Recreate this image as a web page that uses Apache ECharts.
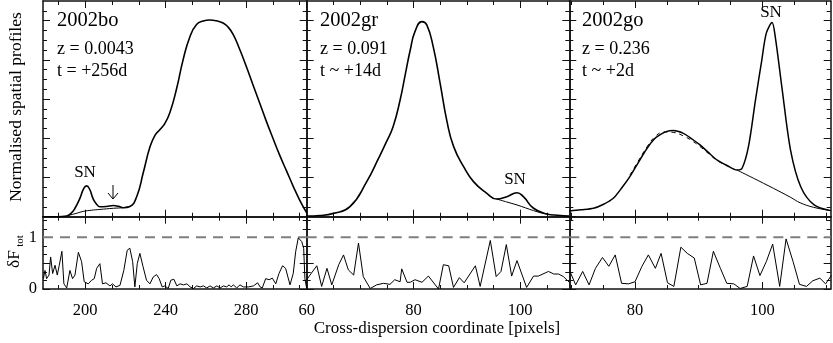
<!DOCTYPE html>
<html>
<head>
<meta charset="utf-8">
<script src="https://cdn.jsdelivr.net/npm/echarts@6/dist/echarts.min.js"></script>
<style>
  html, body { margin: 0; padding: 0; background: #fff; }
  #chart { width: 833px; height: 343px; }
</style>
</head>
<body>
<div id="chart"></div>
<script>
// ---- data ----
// 2002bo
const boTotal = [[179, 0.0], [186, 0.0], [190.8, 0.004], [193, 0.018], [194.9, 0.043], [197.4, 0.095], [199.3, 0.145], [200.7, 0.157], [202.2, 0.14], [204, 0.09], [205.8, 0.062], [207.3, 0.051], [210.5, 0.052], [214, 0.057], [216.5, 0.053], [218.9, 0.046], [222.2, 0.052], [225.6, 0.102], [228.9, 0.225], [232.2, 0.355], [234.7, 0.415], [237.2, 0.445], [239.6, 0.475], [242.1, 0.53], [245.4, 0.65], [248.7, 0.8], [252.1, 0.918], [255.4, 0.98], [258.7, 0.998], [262, 1.003], [265.3, 0.999], [268.6, 0.988], [271, 0.968], [273.6, 0.93], [276.8, 0.855], [280.2, 0.765], [283.5, 0.672], [286.8, 0.58], [290, 0.49], [293.4, 0.4], [296.7, 0.315], [300.1, 0.235], [303.5, 0.155], [306.7, 0.085], [310.2, 0.02]];
const boModel = [[190.8, 0.005], [194.9, 0.015], [199, 0.027], [203, 0.033], [207.3, 0.037], [214, 0.043], [218.9, 0.046], [222.2, 0.052]];
const boRes = [[179.2, 0.2], [180.0, 0.36], [180.8, 0.2], [182.0, 0.27], [182.8, 0.62], [183.8, 0.3], [185.0, 0.46], [186.1, 0.27], [187.1, 0.46], [188.4, 0.73], [189.4, 0.1], [190.8, 0.02], [192.4, 0.36], [193.7, 0.2], [194.9, 0.27], [196.6, 0.71], [198.2, 0.53], [199.5, 0.14], [201.5, 0.1], [203.2, 0.17], [204.5, 0.2], [205.7, 0.4], [207.3, 0.49], [208.6, 0.1], [210.3, 0.12], [212.3, 0.06], [213.6, 0.1], [215.3, 0.04], [217.3, 0.07], [219.2, 0.36], [220.9, 0.75], [222.2, 0.79], [223.6, 0.53], [224.7, 0.04], [225.9, 0.49], [227.2, 0.69], [228.8, 0.43], [230.5, 0.17], [232.2, 0.1], [233.8, 0.23], [235.5, 0.28], [236.8, 0.2], [238.3, 0.04], [239.6, 0.06], [241.3, 0.01], [242.6, 0.17], [244.1, 0.19], [245.6, 0.06], [247.2, 0.1], [248.9, 0.08], [250.6, 0.1], [252.2, 0.04], [253.9, 0.01], [255.5, 0.06], [257.2, 0.04], [258.8, 0.06], [260.5, 0.02], [262.1, 0.06], [263.8, 0.02], [265.5, 0.06], [267.1, 0.02], [268.8, 0.06], [270.4, 0.04], [271.6, 0.08], [272.6, 0.04], [273.7, 0.08], [275.4, 0.02], [277.0, 0.08], [278.7, 0.04], [281.2, 0.04], [283.7, 0.06], [285.8, 0.12], [287.0, 0.04], [288.1, 0.02], [289.8, 0.2], [291.5, 0.18], [293.1, 0.21], [294.8, 0.1], [296.4, 0.3], [298.2, 0.45], [299.7, 0.4], [301.9, 0.08], [303.5, 0.3], [304.7, 0.72], [306.0, 0.99], [307.7, 0.92], [308.7, 0.79], [309.3, 0.2], [310.2, 0.01]];

// 2002gr
const grTotal = [[60, 0.003], [62.5, 0.006], [65, 0.017], [68.1, 0.051], [71.25, 0.179], [73.5, 0.3], [75.0, 0.385], [76.2, 0.46], [77.5, 0.595], [78.5, 0.73], [79.4, 0.85], [80.3, 0.945], [81.6, 0.995], [82.5, 0.978], [83.7, 0.867], [85.0, 0.68], [86.25, 0.49], [87.5, 0.36], [89.4, 0.255], [91.25, 0.179], [93.75, 0.119], [95.6, 0.09], [97.5, 0.102], [99.4, 0.122], [100.6, 0.102], [102.5, 0.043], [105, 0.014], [107, 0.007], [109.2, 0.003]];
const grModel = [[95.6, 0.09], [97.5, 0.075], [99.4, 0.06], [101, 0.045], [102.5, 0.031], [104, 0.019], [105, 0.014]];
const grRes = [[60, 0.18], [60.9, 0.31], [61.9, 0.45], [62.8, 0.05], [63.8, 0.4], [64.7, 0.08], [66.0, 0.47], [66.9, 0.66], [67.8, 0.37], [68.8, 0.27], [69.7, 0.89], [70.6, 0.24], [71.9, 0.01], [73.1, 0.08], [74.4, 0.11], [75.6, 0.09], [76.5, 0.18], [77.5, 0.14], [77.8, 0.39], [78.8, 0.13], [79.4, 0.13], [80.3, 0.18], [81.6, 0.13], [82.8, 0.25], [84.7, 0.0], [85.6, 0.47], [86.6, 0.45], [87.5, 0.03], [88.6, 0.22], [89.5, 0.12], [91.6, 0.45], [92.5, 0.05], [94.4, 0.94], [95.5, 0.24], [96.4, 0.34], [97.4, 0.86], [98.4, 0.25], [99.4, 0.55], [101.2, 0.03], [102.5, 0.25], [103.4, 0.25], [105.3, 0.34], [106.3, 0.29], [107.2, 0.29], [108.1, 0.24], [109.2, 0.13]];

// 2002go
const goTotal = [[69.7, 0.029], [71.5, 0.035], [73.5, 0.043], [75, 0.062], [76.6, 0.094], [78, 0.15], [79.2, 0.204], [80.5, 0.275], [81.9, 0.349], [83, 0.395], [83.9, 0.417], [85, 0.435], [86, 0.439], [87.6, 0.425], [89, 0.395], [90.2, 0.366], [91.5, 0.328], [92.9, 0.289], [94.5, 0.26], [96, 0.238], [96.8, 0.247], [97.8, 0.357], [98.9, 0.595], [99.9, 0.8], [100.6, 0.936], [101.5, 0.99], [102, 0.918], [103.1, 0.646], [104.4, 0.34], [106, 0.153], [108.1, 0.06], [110.7, 0.031]];
const goModel = [[96.0, 0.238], [98.6, 0.196], [101.7, 0.145], [104.4, 0.099], [105.9, 0.071], [108.0, 0.048], [110.7, 0.031]];
const goFit = [[79.2, 0.212], [80.5, 0.283], [81.9, 0.357], [83.2, 0.41], [84.5, 0.432], [86, 0.43], [87.6, 0.412], [89, 0.386], [90.2, 0.358], [91.5, 0.323], [92.9, 0.286], [94.5, 0.258]];
const goRes = [[69.8, 0.34], [70.7, 0.08], [71.8, 0.34], [72.8, 0.08], [73.8, 0.4], [74.9, 0.61], [75.9, 0.44], [76.9, 0.66], [77.9, 0.11], [79.0, 0.1], [80.0, 0.14], [81.1, 0.44], [82.1, 0.66], [83.2, 0.4], [84.1, 0.69], [85.1, 0.12], [86.1, 0.05], [87.2, 0.81], [88.2, 0.69], [89.3, 0.6], [90.3, 0.08], [91.3, 0.11], [92.3, 0.73], [93.4, 0.4], [94.4, 0.11], [95.5, 0.1], [96.5, 0.01], [97.6, 0.05], [98.6, 0.64], [99.6, 0.26], [100.6, 0.53], [101.6, 0.87], [102.7, 0.05], [103.7, 0.97], [104.8, 0.53], [105.8, 0.09], [106.9, 0.05], [107.9, 0.16], [109.0, 0.21], [109.9, 0.1], [110.8, 0.26]];

// ---- ticks and labels ----
const boXMajor = [200, 240, 280];
const boXMinor = [186.67, 213.33, 226.67, 253.33, 266.67, 293.33, 306.67];
const grXMajor = [60, 80, 100];
const grXMinor = [65, 70, 75, 85, 90, 95, 105];
const goXMajor = [80, 100];
const goXMinor = [70, 75, 85, 90, 95, 105, 110];
const profYMajor = [0, 0.2, 0.4, 0.6, 0.8, 1.0];
const profYMinor = [0.05, 0.1, 0.15, 0.25, 0.3, 0.35, 0.45, 0.5, 0.55, 0.65, 0.7, 0.75, 0.85, 0.9, 0.95, 1.05];
const resYMajor = [0, 0.5, 1];
const resYMinor = [1 / 6, 2 / 6, 4 / 6, 5 / 6, 7 / 6, 8 / 6];
const resYLabels = [0, 1];
const refLevel = 1;

const font = '"Liberation Serif", "Times New Roman", serif';
const ink = '#111';

// panel geometry (pixels)
const cols = [
	{ left: 43, width: 263.7, min: 179, max: 310.2, major: boXMajor, minor: boXMinor },
	{ left: 306.7, width: 262.6, min: 60, max: 109.2, major: grXMajor, minor: grXMinor },
	{ left: 569.3, width: 261.4, min: 69.7, max: 110.7, major: goXMajor, minor: goXMinor }
];
const rows = [
	{ top: 1, height: 215.7, min: 0, max: 1.1, major: profYMajor, minor: profYMinor },
	{ top: 216.7, height: 72.3, min: 0, max: 1.4, major: resYMajor, minor: resYMinor }
];

const grids = [], xAxes = [], yAxes = [];

function axis( grid, min, max, position, ticks, len, showLine, labels, margin ) {
	return {
		type: "value", gridIndex: grid, min, max, position,
		axisLine: { show: showLine, onZero: false, lineStyle: { color: ink, width: 1.5 } },
		axisTick: { show: true, inside: true, length: len, customValues: ticks, lineStyle: { color: ink, width: 1 } },
		axisLabel: labels
			? { show: true, customValues: labels, margin, color: "#000", fontFamily: font, fontSize: 16.5 }
			: { show: false },
		splitLine: { show: false }
	};
}

rows.forEach( ( r, ri ) => {
	cols.forEach( ( c, ci ) => {
		const g = grids.length;
		grids.push( { left: c.left, top: r.top, width: c.width, height: r.height, outerBoundsMode: "none", containLabel: false } );
		const xLab = ri === 1 ? c.major : null;
		xAxes.push( axis( g, c.min, c.max, "bottom", c.major, 7, true, xLab, 13 ) );
		xAxes.push( axis( g, c.min, c.max, "bottom", c.minor, 4, false, null ) );
		xAxes.push( axis( g, c.min, c.max, "top", c.major, 7, true, null ) );
		xAxes.push( axis( g, c.min, c.max, "top", c.minor, 4, false, null ) );
		const yLab = ri === 1 && ci === 0 ? resYLabels : null;
		yAxes.push( axis( g, r.min, r.max, "left", r.major, 7, true, yLab, 6 ) );
		yAxes.push( axis( g, r.min, r.max, "left", r.minor, 4, false, null ) );
		yAxes.push( axis( g, r.min, r.max, "right", r.major, 7, true, null ) );
		yAxes.push( axis( g, r.min, r.max, "right", r.minor, 4, false, null ) );
	} );
} );

function line( data, g, width, extra ) {
	return Object.assign( {
		type: "line", data, xAxisIndex: 4 * g, yAxisIndex: 4 * g,
		symbol: "none", showSymbol: false, silent: true, animation: false,
		lineStyle: { color: "#000", width }
	}, extra || {} );
}

const series = [
	line( boModel, 0, 1, { smooth: 0.4 } ),
	line( boTotal, 0, 1.6, { smooth: 0.5 } ),
	line( grModel, 1, 1, { smooth: 0.3 } ),
	line( grTotal, 1, 1.6, { smooth: 0.5 } ),
	line( goModel, 2, 1, { smooth: 0.4 } ),
	line( goFit, 2, 1, { smooth: 0.4, lineStyle: { color: "#000", width: 1, type: [ 4, 4 ] } } ),
	line( goTotal, 2, 1.5, { smooth: 0.3 } )
];
[ boRes, grRes, goRes ].forEach( ( d, i ) => {
	const g = 3 + i;
	series.push( line( [ [ cols[i].min, refLevel ], [ cols[i].max, refLevel ] ], g, 2,
		{ lineStyle: { color: "#7f7f7f", width: 2, type: [ 10, 7 ] } } ) );
	series.push( line( d, g, 1 ) );
} );

function txt( x, y, text, size, align, rot ) {
	return {
		type: "text", x, y, rotation: rot || 0, silent: true,
		style: {
			text, fill: "#000", fontFamily: font, fontSize: size,
			align: align || "left", textAlign: align || "left",
			verticalAlign: "middle", textVerticalAlign: "middle"
		}
	};
}

const graphic = [
	txt( 57, 21, "2002bo", 20.5 ),
	txt( 57, 49, "z = 0.0043", 18 ),
	txt( 57, 71, "t = +256d", 18 ),
	txt( 320, 21, "2002gr", 20.5 ),
	txt( 320, 49, "z = 0.091", 18 ),
	txt( 320, 71, "t ~ +14d", 18 ),
	txt( 582, 21, "2002go", 20.5 ),
	txt( 582, 49, "z = 0.236", 18 ),
	txt( 582, 71, "t ~ +2d", 18 ),
	txt( 85, 173, "SN", 17, "center" ),
	txt( 515, 180, "SN", 17, "center" ),
	txt( 771, 13, "SN", 17, "center" ),
	txt( 437, 329, "Cross-dispersion coordinate [pixels]", 17, "center" ),
	txt( 16, 107, "Normalised spatial profiles", 17.5, "center", Math.PI / 2 ),
	txt( 14, 259, "δF", 17.5, "center", Math.PI / 2 ),
	txt( 20, 241, "tot", 11, "center", Math.PI / 2 ),
	{ type: "line", silent: true, shape: { x1: 113, y1: 185, x2: 113, y2: 199 }, style: { stroke: "#000", lineWidth: 1 } },
	{ type: "polyline", silent: true, shape: { points: [ [ 108, 193 ], [ 113, 199 ], [ 118, 193 ] ] }, style: { stroke: "#000", lineWidth: 1, fill: null } }
];

const chart = echarts.init( document.getElementById( "chart" ), null, { renderer: "canvas" } );
chart.setOption( {
	backgroundColor: "#fff",
	animation: false,
	grid: grids,
	xAxis: xAxes,
	yAxis: yAxes,
	series,
	graphic
} );
</script>
</body>
</html>
